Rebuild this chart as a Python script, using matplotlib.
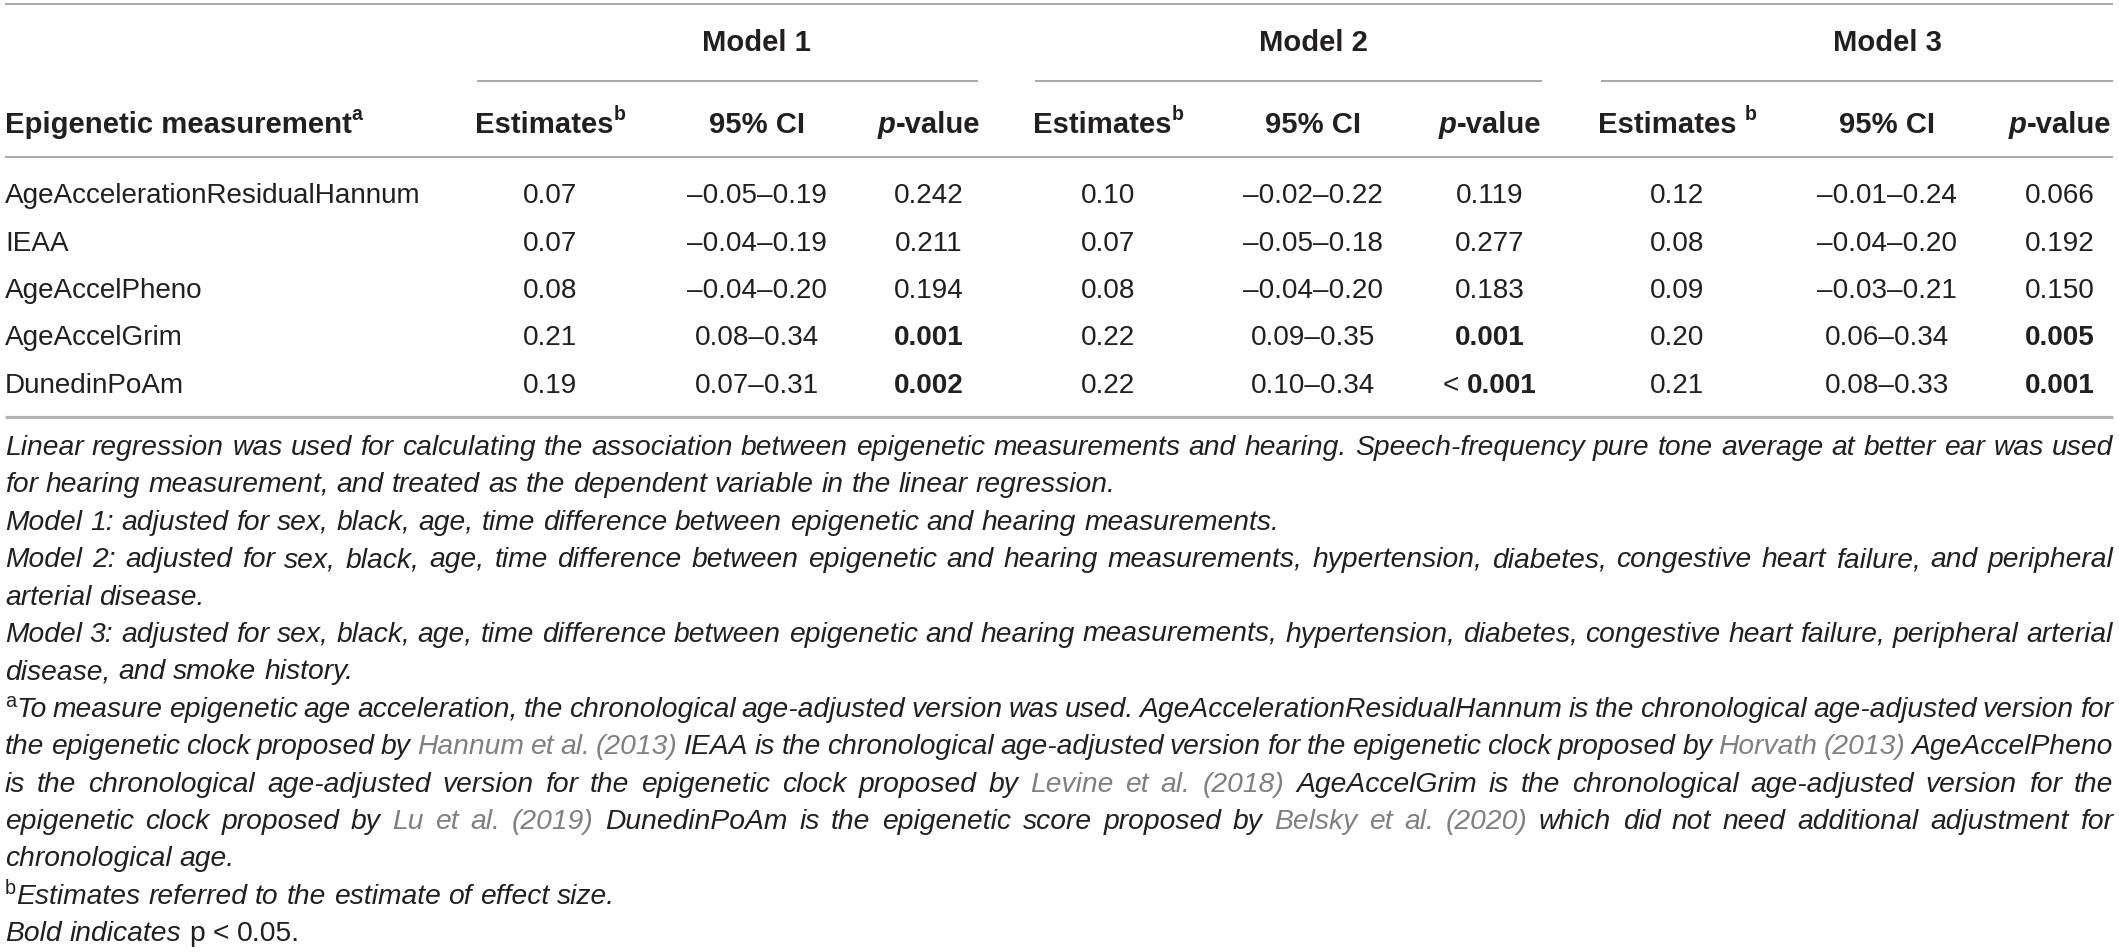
import matplotlib
matplotlib.use('Agg')
import matplotlib.pyplot as plt
from matplotlib import font_manager as fm

# ------------------------------------------------------------------ data
measures = ['AgeAccelerationResidualHannum', 'IEAA', 'AgeAccelPheno',
            'AgeAccelGrim', 'DunedinPoAm']
model_names = ['Model 1', 'Model 2', 'Model 3']

est_m1 = ['0.07', '0.07', '0.08', '0.21', '0.19']
ci_m1 = ['–0.05–0.19', '–0.04–0.19', '–0.04–0.20', '0.08–0.34', '0.07–0.31']
p_m1 = ['0.242', '0.211', '0.194', '0.001', '0.002']

est_m2 = ['0.10', '0.07', '0.08', '0.22', '0.22']
ci_m2 = ['–0.02–0.22', '–0.05–0.18', '–0.04–0.20', '0.09–0.35', '0.10–0.34']
p_m2 = ['0.119', '0.277', '0.183', '0.001', '< 0.001']

est_m3 = ['0.12', '0.08', '0.09', '0.20', '0.21']
ci_m3 = ['–0.01–0.24', '–0.04–0.20', '–0.03–0.21', '0.06–0.34', '0.08–0.33']
p_m3 = ['0.066', '0.192', '0.150', '0.005', '0.001']

label_header = 'Epigenetic measurement'
est_header = 'Estimates'
ci_header = '95% CI'

footnote_lines = [
    ([("Linear regression was used for calculating the association between epigenetic measurements and hearing. Speech-frequency pure tone average at better ear was used", 'i')], True),
    ([("for hearing measurement, and treated as the dependent variable in the linear regression.", 'i')], False),
    ([("Model 1: adjusted for sex, black, age, time difference between epigenetic and hearing measurements.", 'i')], False),
    ([("Model 2: adjusted for sex, black, age, time difference between epigenetic and hearing measurements, hypertension, diabetes, congestive heart failure, and peripheral", 'i')], True),
    ([("arterial disease.", 'i')], False),
    ([("Model 3: adjusted for sex, black, age, time difference between epigenetic and hearing measurements, hypertension, diabetes, congestive heart failure, peripheral arterial", 'i')], True),
    ([("disease, and smoke history.", 'i')], False),
    ([("a", 'fs'), ("To measure epigenetic age acceleration, the chronological age-adjusted version was used. AgeAccelerationResidualHannum is the chronological age-adjusted version for", 'i')], True),
    ([("the epigenetic clock proposed by ", 'i'), ("Hannum et al. (2013)", 'c'),
      (" IEAA is the chronological age-adjusted version for the epigenetic clock proposed by ", 'i'),
      ("Horvath (2013)", 'c'), (" AgeAccelPheno", 'i')], True),
    ([("is the chronological age-adjusted version for the epigenetic clock proposed by ", 'i'),
      ("Levine et al. (2018)", 'c'), (" AgeAccelGrim is the chronological age-adjusted version for the", 'i')], True),
    ([("epigenetic clock proposed by ", 'i'), ("Lu et al. (2019)", 'c'),
      (" DunedinPoAm is the epigenetic score proposed by ", 'i'), ("Belsky et al. (2020)", 'c'),
      (" which did not need additional adjustment for", 'i')], True),
    ([("chronological age.", 'i')], False),
    ([("b", 'fs'), ("Estimates referred to the estimate of effect size.", 'i')], False),
    ([("Bold indicates ", 'i'), ("p < 0.05.", 'u')], False),
]

# ------------------------------------------------------------------ layout
W, H, DPI = 2119, 953, 100
X_LEFT, X_RIGHT = 5, 2113
EST_X = [550, 1108, 1677]
CI_X = [757, 1313, 1887]
P_X = [929, 1490, 2060]
MODEL_RULES = [(477, 978), (1035, 1542), (1601, 2113)]
Y_TOP_RULE, Y_MODEL_RULE, Y_HEAD_RULE, Y_BOTTOM_RULE = 5, 82, 158, 418
Y_MODEL_BASE, Y_HEAD_BASE = 51, 133
ROW_BASE0, ROW_STEP = 203.3, 47.35
FOOT_BASE0, FOOT_STEP = 455.0, 37.4

INK = '#231f20'
CITE = '#808080'
RULE = '#8f8f8f'
RULE_BOTTOM = '#b4b4b4'


def pick_font(cands):
    for c in cands:
        try:
            fm.findfont(fm.FontProperties(family=c), fallback_to_default=False)
            return c
        except Exception:
            continue
    return 'DejaVu Sans'


FAM = pick_font(['Liberation Sans', 'Arial', 'DejaVu Sans'])

fig = plt.figure(figsize=(W / DPI, H / DPI), dpi=DPI, facecolor='white')
ax = fig.add_axes([0, 0, 1, 1])
ax.set_xlim(0, W)
ax.set_ylim(H, 0)
ax.axis('off')
renderer = fig.canvas.get_renderer()

SZ = {'body': 20.0, 'head': 21.0, 'hsup': 14.0, 'foot': 19.0, 'fsup': 13.5}
RAISE = {'hs': 12.5, 'fs': 10.0}


def kw_for(st):
    d = dict(family=FAM, va='baseline', ha='left', color=INK)
    if st == 'r':
        d.update(fontsize=SZ['body'])
    elif st == 'rb':
        d.update(fontsize=SZ['body'], fontweight='bold')
    elif st == 'h':
        d.update(fontsize=SZ['head'], fontweight='bold')
    elif st == 'hi':
        d.update(fontsize=SZ['head'], fontweight='bold', fontstyle='italic')
    elif st == 'hs':
        d.update(fontsize=SZ['hsup'], fontweight='bold')
    elif st == 'i':
        d.update(fontsize=SZ['foot'], fontstyle='italic')
    elif st == 'c':
        d.update(fontsize=SZ['foot'], fontstyle='italic', color=CITE)
    elif st == 'u':
        d.update(fontsize=SZ['foot'])
    elif st == 'fs':
        d.update(fontsize=SZ['fsup'])
    return d


def tw(text, st):
    if text.strip() == '':
        return len(text) * space_w(st)
    t = ax.text(0, 0, text, **kw_for(st))
    w = t.get_window_extent(renderer).width
    t.remove()
    return w


def space_w(st):
    return tw('x x', st) - tw('xx', st)


def draw_pieces(x, y, pieces, ha='left'):
    widths = [tw(s, st) for s, st in pieces]
    total = sum(widths)
    if ha == 'center':
        x = x - total / 2
    elif ha == 'right':
        x = x - total
    for (s, st), w in zip(pieces, widths):
        if s.strip():
            ax.text(x, y - RAISE.get(st, 0), s, **kw_for(st))
        x += w


def tokenize(segs):
    tokens = []
    new = True
    for text, st in segs:
        parts = text.split(' ')
        for i, p in enumerate(parts):
            if i > 0:
                new = True
            if p == '':
                continue
            if new or not tokens:
                tokens.append([(p, st)])
            else:
                tokens[-1].append((p, st))
            new = False
    return tokens


# ---- fit sizes to reference widths
SZ['body'] *= 416.0 / tw(measures[0], 'r')
SZ['head'] *= 138.0 / tw(est_header, 'h')
SZ['hsup'] = SZ['head'] * 0.67
line3 = footnote_lines[2][0][0][0]
SZ['foot'] *= 1275.0 / tw(line3, 'i')
for _ in range(3):
    worst = 0
    for segs, just in footnote_lines:
        if just:
            toks = tokenize(segs)
            nat = sum(sum(tw(s, st) for s, st in tk) for tk in toks) + (len(toks) - 1) * space_w('i') * 0.75
            worst = max(worst, nat / (X_RIGHT - X_LEFT))
    if worst > 1.0:
        SZ['foot'] /= worst
    else:
        break
SZ['fsup'] = SZ['foot'] * 0.7

# ------------------------------------------------------------------ rules
ax.plot([X_LEFT, X_RIGHT], [Y_TOP_RULE] * 2, color=RULE, lw=1.1, solid_capstyle='butt')
for x0, x1 in MODEL_RULES:
    ax.plot([x0, x1], [Y_MODEL_RULE] * 2, color=RULE, lw=1.1, solid_capstyle='butt')
ax.plot([X_LEFT, X_RIGHT], [Y_HEAD_RULE] * 2, color=RULE, lw=1.1, solid_capstyle='butt')
ax.plot([X_LEFT, X_RIGHT], [Y_BOTTOM_RULE] * 2, color=RULE_BOTTOM, lw=2.3, solid_capstyle='butt')

# ------------------------------------------------------------------ headers
for k, name in enumerate(model_names):
    ax.text(CI_X[k], Y_MODEL_BASE, name, **{**kw_for('h'), 'ha': 'center'})

draw_pieces(X_LEFT, Y_HEAD_BASE, [(label_header, 'h'), ('a', 'hs')], 'left')
for k in range(3):
    if k < 2:
        est_pieces = [(est_header, 'h'), ('b', 'hs')]
    else:
        est_pieces = [(est_header, 'h'), (' ', 'h'), ('b', 'hs')]
    draw_pieces(EST_X[k], Y_HEAD_BASE, est_pieces, 'center')
    ax.text(CI_X[k], Y_HEAD_BASE, ci_header, **{**kw_for('h'), 'ha': 'center'})
    draw_pieces(P_X[k], Y_HEAD_BASE, [('p', 'hi'), ('-value', 'h')], 'center')

# ------------------------------------------------------------------ body
ests = [est_m1, est_m2, est_m3]
cis = [ci_m1, ci_m2, ci_m3]
ps = [p_m1, p_m2, p_m3]
for r, name in enumerate(measures):
    yb = ROW_BASE0 + r * ROW_STEP
    ax.text(X_LEFT, yb, name, **kw_for('r'))
    for k in range(3):
        ax.text(EST_X[k], yb, ests[k][r], **{**kw_for('r'), 'ha': 'center'})
        ax.text(CI_X[k], yb, cis[k][r], **{**kw_for('r'), 'ha': 'center'})
        pstr = ps[k][r]
        pval = float(pstr.replace('<', '').strip())
        st = 'rb' if pval < 0.05 else 'r'
        if pstr.startswith('<'):
            draw_pieces(P_X[k], yb, [('<', 'r'), (' ', 'r'), (pstr[1:].strip(), st)], 'center')
        else:
            ax.text(P_X[k], yb, pstr, **{**kw_for(st), 'ha': 'center'})

# ------------------------------------------------------------------ footnotes
for i, (segs, just) in enumerate(footnote_lines):
    yb = FOOT_BASE0 + i * FOOT_STEP
    toks = tokenize(segs)
    widths = [sum(tw(s, st) for s, st in tk) for tk in toks]
    if just and len(toks) > 1:
        gap = (X_RIGHT - X_LEFT - sum(widths)) / (len(toks) - 1)
    else:
        gap = space_w('i')
    x = X_LEFT
    for tk, w in zip(toks, widths):
        draw_pieces(x, yb, tk, 'left')
        x += w + gap

fig.savefig('out.png', dpi=DPI, facecolor='white')
